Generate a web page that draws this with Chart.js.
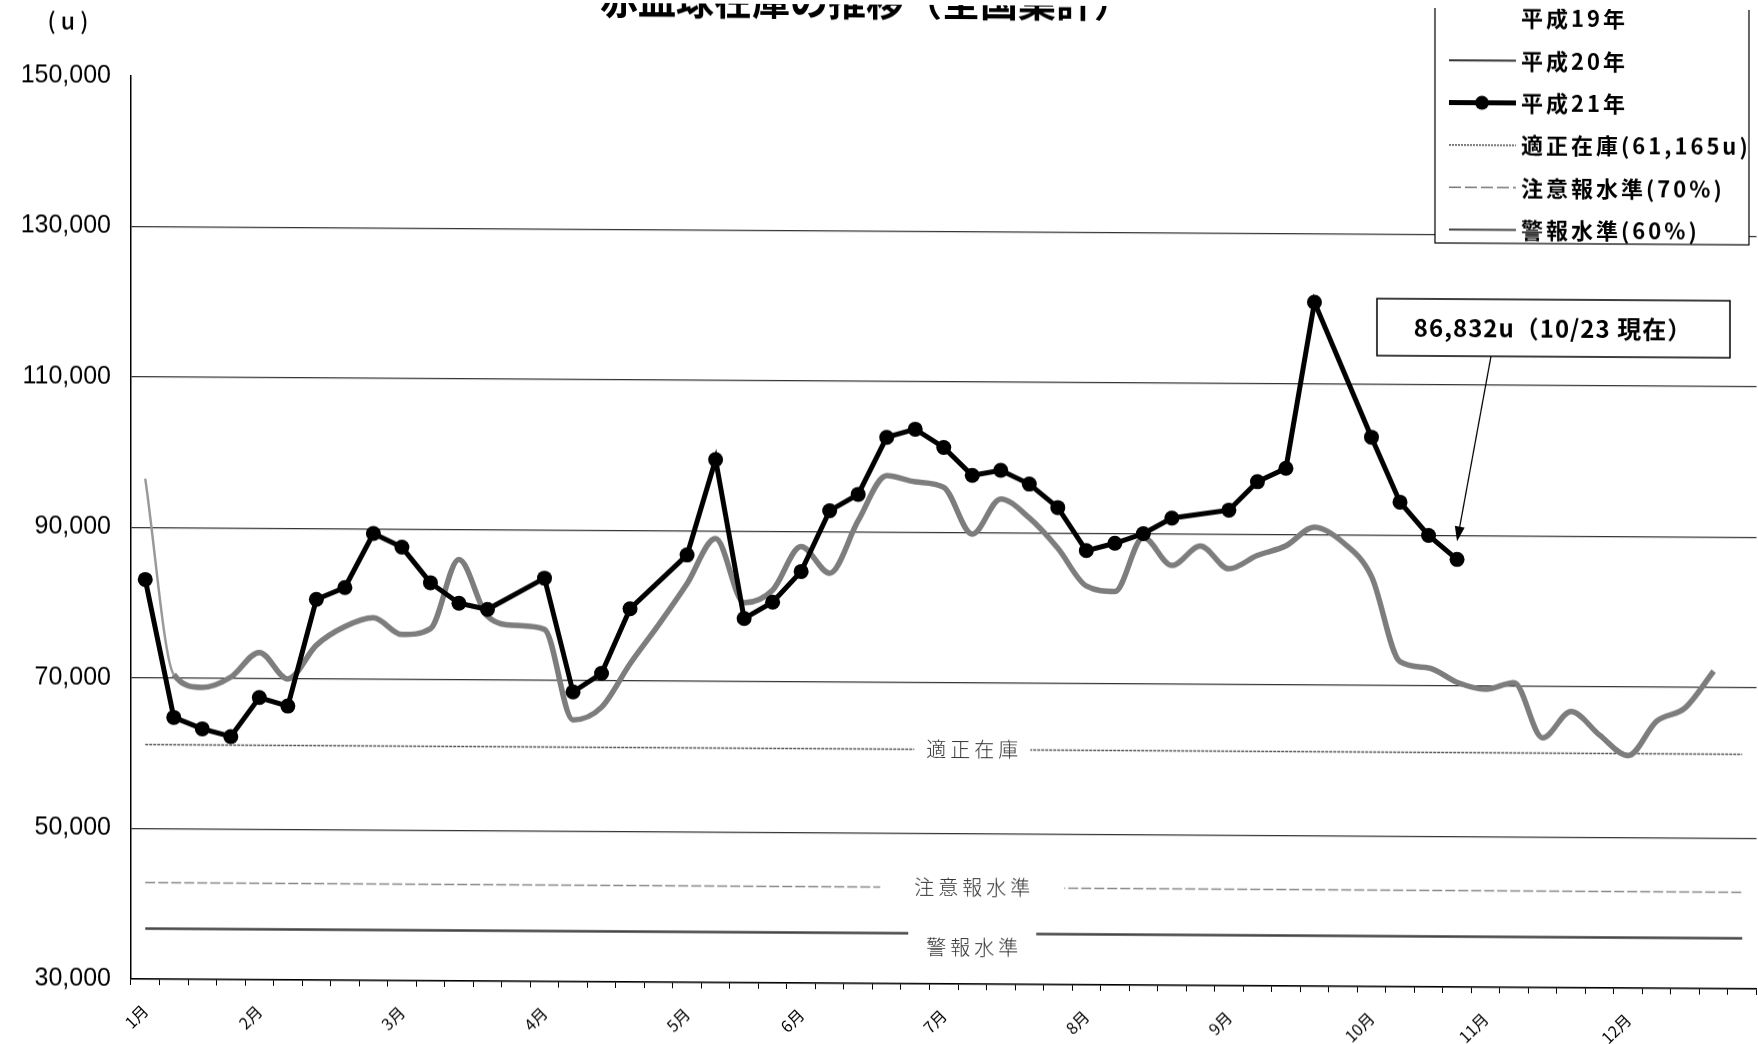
<!DOCTYPE html>
<html lang="ja">
<head>
<meta charset="utf-8">
<title>赤血球在庫の推移（全国集計）</title>
<script src="https://cdn.jsdelivr.net/npm/chart.js"></script>
<style>
  html, body { margin: 0; padding: 0; background: #fff; overflow: hidden; }
  /* the scanned original is slightly skewed, and the plot runs a little past the right edge */
  #myChart { display: block; transform: skewY(0.35deg); transform-origin: 132px 0; }
</style>
</head>
<body>
<canvas id="myChart" width="1764" height="1044"></canvas>
<script>
const chartTitle = '赤血球在庫の推移（全国集計）'
const unitLabel = '( u )'

// weekly categories, month name on the first week of each month
const months = ['1月', '2月', '3月', '4月', '5月', '6月', '7月', '8月', '9月', '10月', '11月', '12月']
const monthWeek = [0, 4, 9, 14, 19, 23, 28, 33, 38, 43, 47, 52]
const weekCount = 57

const yTicks = [30000, 50000, 70000, 90000, 110000, 130000, 150000]

// 平成21年 (weekly, a few weeks missing)
const h21 = [83100, 64800, 63300, 62300, 67500, 66400, 80600, 82200, 89400, 87600,
  82900, 80200, 79400, null, 83600, 68500, 71000, 79600, null, 86800,
  99500, 78400, 80600, 84700, 92800, 95000, 102600, 103700, 101300, 97600,
  98300, 96500, 93400, 87700, 88700, 90000, 92100, null, 93200, 97000,
  98800, 120900, null, 103000, 94400, 90000, 86832]

// 平成20年
const h20 = [96500, 70500, 68800, 70200, 73500, 70000, 74500, 77000, 78200, 76000,
  76800, 86000, 78500, 77300, 76800, 64800, 66500, 72300, 77500, 83000,
  89000, 80500, 82200, 88000, 84500, 91500, 97500, 96700, 96000, 89800,
  94500, 92000, 88000, 83000, 82300, 89500, 85800, 88400, 85400, 87200,
  88500, 91000, 89000, 84500, 73200, 72400, 70500, 69600, 70500, 63200,
  66700, 63600, 60900, 65500, 67300, 72200]

const tekisei = 61165              // 適正在庫
const chuiho = 42816               // 注意報水準 (70%)
const keiho = 36699                // 警報水準 (60%)

const weekLabels = []
for (let i = 0; i < weekCount; i++) {
  const m = monthWeek.indexOf(i)
  weekLabels.push(m >= 0 ? months[m] : '')
}

const levelLines = [
  { name: '適正在庫', value: tekisei, color: '#555', width: 1.6, dash: [3, 1], gap: 58, below: false },
  { name: '注意報水準', value: chuiho, color: '#888', width: 1.5, dash: [10, 3], gap: 92, below: false },
  { name: '警報水準', value: keiho, color: '#444', width: 2.5, dash: [], gap: 64, below: true }
]

const legendItems = [
  { text: '平成19年', kind: 'none' },
  { text: '平成20年', kind: 'line', color: '#333', width: 2, dash: [] },
  { text: '平成21年', kind: 'dot', color: '#000', width: 5, dash: [] },
  { text: '適正在庫(61,165u)', kind: 'line', color: '#666', width: 1.6, dash: [2, 1] },
  { text: '注意報水準(70%)', kind: 'line', color: '#777', width: 1.6, dash: [12, 4] },
  { text: '警報水準(60%)', kind: 'line', color: '#444', width: 2, dash: [] }
]

const jpFont = '"Noto Sans CJK JP", sans-serif'

const decor = {
  id: 'decor',
  afterDatasetsDraw(chart) {
    const ctx = chart.ctx
    const xs = chart.scales.x, ys = chart.scales.y
    ctx.save()
    ctx.font = '300 20px ' + jpFont
    ctx.letterSpacing = '4px'
    ctx.textAlign = 'center'
    ctx.textBaseline = 'middle'
    const cx = xs.getPixelForValue(29)
    levelLines.forEach(l => {
      const ly = ys.getPixelForValue(l.value)
      ctx.fillStyle = '#fff'
      ctx.fillRect(cx - l.gap, ly - 4, l.gap * 2, 8)
      ctx.fillStyle = '#333'
      ctx.fillText(l.name, cx + 2, l.below ? ly + 14 : ly)
    })
    ctx.restore()
  },
  afterDraw(chart) {
    const ctx = chart.ctx
    const xs = chart.scales.x, ys = chart.scales.y
    ctx.save()
    ctx.fillStyle = '#000'
    ctx.textAlign = 'center'
    ctx.textBaseline = 'middle'
    ctx.font = 'bold 38px ' + jpFont
    ctx.fillText(chartTitle, 866, -3)
    ctx.font = '500 23px ' + jpFont
    ctx.fillText(unitLabel, 68, 21)

    // legend box
    ctx.fillStyle = '#fff'
    ctx.fillRect(1435, -5, 314, 240)
    ctx.strokeStyle = '#000'
    ctx.lineWidth = 1.2
    ctx.strokeRect(1435, -5, 314, 240)
    ctx.textAlign = 'left'
    ctx.font = 'bold 22px ' + jpFont
    ctx.letterSpacing = '3px'
    legendItems.forEach((it, i) => {
      const ly = 10 + i * 42.3
      if (it.kind !== 'none') {
        ctx.strokeStyle = it.color
        ctx.lineWidth = it.width
        ctx.setLineDash(it.dash)
        ctx.beginPath()
        ctx.moveTo(1449, ly)
        ctx.lineTo(1516, ly)
        ctx.stroke()
        ctx.setLineDash([])
        if (it.kind === 'dot') {
          ctx.fillStyle = it.color
          ctx.beginPath()
          ctx.arc(1482, ly, 7, 0, Math.PI * 2)
          ctx.fill()
        }
      }
      ctx.fillStyle = '#000'
      ctx.fillText(it.text, 1521, ly)
    })

    // callout for the latest value
    const lastIdx = h21.length - 1
    const px = xs.getPixelForValue(lastIdx)
    const py = ys.getPixelForValue(h21[lastIdx]) - 18
    ctx.letterSpacing = '1px'
    ctx.fillStyle = '#fff'
    ctx.fillRect(1377, 291, 353, 57)
    ctx.strokeStyle = '#000'
    ctx.lineWidth = 1.5
    ctx.strokeRect(1377, 291, 353, 57)
    ctx.fillStyle = '#000'
    ctx.textAlign = 'center'
    ctx.font = 'bold 24px ' + jpFont
    ctx.fillText('86,832u（10/23 現在）', 1553, 320)

    const sx = 1491, sy = 348
    const ang = Math.atan2(py - sy, px - sx)
    ctx.lineWidth = 1.3
    ctx.beginPath()
    ctx.moveTo(sx, sy)
    ctx.lineTo(px - Math.cos(ang) * 10, py - Math.sin(ang) * 10)
    ctx.stroke()
    ctx.beginPath()
    ctx.moveTo(px, py)
    ctx.lineTo(px - Math.cos(ang) * 15 + Math.sin(ang) * 5, py - Math.sin(ang) * 15 - Math.cos(ang) * 5)
    ctx.lineTo(px - Math.cos(ang) * 15 - Math.sin(ang) * 5, py - Math.sin(ang) * 15 + Math.cos(ang) * 5)
    ctx.closePath()
    ctx.fill()
    ctx.restore()
  }
}

const datasets = [
  {
    label: '平成21年',
    data: h21,
    borderColor: '#000',
    backgroundColor: '#000',
    borderWidth: 5,
    pointRadius: 7.5,
    pointBorderWidth: 0,
    pointBackgroundColor: '#000',
    spanGaps: true,
    tension: 0
  },
  {
    label: '平成20年',
    data: h20,
    borderColor: '#7d7d7d',
    borderWidth: 5.5,
    pointRadius: 0,
    cubicInterpolationMode: 'monotone',
    segment: {
      borderWidth: c => c.p0DataIndex === 0 ? 2.5 : undefined,
      borderColor: c => c.p0DataIndex === 0 ? '#999' : undefined
    }
  }
]
levelLines.forEach(l => {
  datasets.push({
    label: l.name,
    data: weekLabels.map(() => l.value),
    borderColor: l.color,
    borderWidth: l.width,
    borderDash: l.dash,
    pointRadius: 0
  })
})

const ctx = document.getElementById('myChart')

new Chart(ctx, {
  type: 'line',
  data: { labels: weekLabels, datasets: datasets },
  options: {
    responsive: false,
    animation: false,
    layout: { padding: { top: 76, left: 0, right: 0, bottom: 0 } },
    plugins: { legend: { display: false }, title: { display: false }, tooltip: { enabled: false } },
    scales: {
      x: {
        offset: true,
        grid: { offset: true, drawOnChartArea: false, drawTicks: true, tickLength: 6, color: '#000' },
        border: { color: '#000', width: 1.5 },
        ticks: {
          autoSkip: false, minRotation: 45, maxRotation: 45, padding: 16,
          color: '#000', font: { family: jpFont, size: 16 }
        },
        afterFit: s => {
          s.height = 65
          s.paddingLeft = 0
          s.paddingRight = 0
        }
      },
      y: {
        min: yTicks[0],
        max: yTicks[yTicks.length - 1],
        afterBuildTicks: s => { s.ticks = yTicks.map(v => ({ value: v })) },
        grid: {
          drawTicks: false,
          lineWidth: 1.2,
          color: c => (c.tick && c.tick.value === 150000) ? 'rgba(0,0,0,0)' : '#333'
        },
        border: { color: '#000', width: 1.5 },
        ticks: {
          padding: 20,
          color: '#000',
          font: { family: '"Liberation Sans", sans-serif', size: 25 },
          callback: v => v.toLocaleString('en-US')
        },
        afterFit: s => { s.width = 131 }
      }
    }
  },
  plugins: [decor]
})
</script>
</body>
</html>
